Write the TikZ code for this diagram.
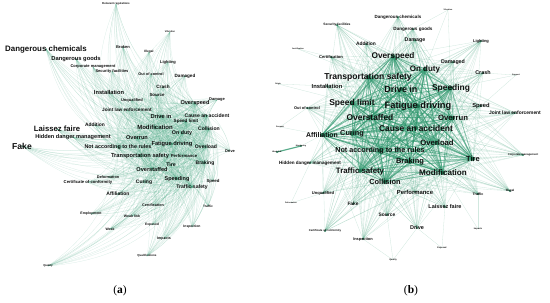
\documentclass[tikz,border=0pt]{standalone}
\usepackage{fontspec}
\setmainfont{Liberation Serif}
\newfontfamily\labfont{Liberation Sans}
\usetikzlibrary{backgrounds}
\definecolor{edgeA}{RGB}{70,165,128}
\definecolor{edgeB}{RGB}{45,150,108}
\definecolor{dotc}{RGB}{25,105,70}
\definecolor{labc}{RGB}{15,15,15}
\tikzset{
  lb/.style={font=\labfont\bfseries\fontsize{#1}{#1}\selectfont, inner sep=0pt, text=labc},
  curveA/.style={draw=edgeA, line width=0.25pt, draw opacity=0.21},
  coreB/.style={draw=edgeB, line width=0.75pt, draw opacity=0.34},
  midB/.style={draw=edgeB, line width=0.35pt, draw opacity=0.2},
  farB/.style={draw=edgeB, line width=0.3pt, draw opacity=0.22},
  capt/.style={font=\fontsize{11.5}{11.5}\selectfont, inner sep=0pt},
}
\begin{document}
\begin{tikzpicture}[x=1pt,y=-1pt]
\useasboundingbox (0,0) rectangle (550,303);
% ---------------- panel (a) ----------------
\node[lb=2.8] (aRR) at (116,4) {Relevant regulations};
\node[lb=2.4] (aVI) at (170,32) {Vibration};
\node[lb=7.9] (aDC) at (46,49) {Dangerous chemicals};
\node[lb=4.0] (aBR) at (123,47) {Broken};
\node[lb=5.8] (aDG) at (76,59) {Dangerous goods};
\node[lb=4.0] (aCM) at (93,67) {Corporate management};
\node[lb=4.0] (aSF) at (112,71) {Security facilities};
\node[lb=3.8] (aOC) at (151,74) {Out of control};
\node[lb=3.2] (aIL) at (149,52) {Illegal};
\node[lb=4.0] (aLI) at (168,62) {Lighting};
\node[lb=4.6] (aDD) at (185,76) {Damaged};
\node[lb=4.7] (aCR) at (163,87) {Crash};
\node[lb=4.4] (aSO) at (157,95) {Source};
\node[lb=5.7] (aIN) at (109,92) {Installation};
\node[lb=4.0] (aUQ) at (132,100) {Unqualified};
\node[lb=4.7] (aJL) at (127,110) {Joint law enforcement};
\node[lb=7.7] (aLF) at (57,129) {Laissez faire};
\node[lb=4.9] (aAD) at (95,125) {Addition};
\node[lb=5.6] (aHD) at (73,137) {Hidden danger management};
\node[lb=8.6] (aFK) at (22,146) {Fake};
\node[lb=5.6] (aOR) at (137,138) {Overrun};
\node[lb=5.4] (aNA) at (118,147) {Not according to the rules};
\node[lb=5.7] (aTS) at (140,156) {Transportation safety};
\node[lb=4.3] (aPF) at (184,156) {Performance};
\node[lb=5.2] (aTI) at (171,165) {Tire};
\node[lb=5.6] (aOS) at (152,169) {Overstaffed};
\node[lb=5.0] (aBK) at (205,163) {Braking};
\node[lb=5.0] (aCU) at (144,182) {Curing};
\node[lb=5.5] (aSP) at (177,179) {Speeding};
\node[lb=5.1] (aTF) at (192,187) {Traffic safety};
\node[lb=4.3] (aSD) at (213,181) {Speed};
\node[lb=3.8] (aDF) at (108,177) {Deformation};
\node[lb=4.2] (aCC) at (88,182) {Certificate of conformity};
\node[lb=5.0] (aAF) at (118,194) {Affiliation};
\node[lb=3.7] (aCT) at (153,205) {Certification};
\node[lb=3.5] (aEM) at (91,214) {Employment};
\node[lb=3.5] (aWL) at (132,216) {Weak link};
\node[lb=3.4] (aWK) at (110,229) {Weak};
\node[lb=3.3] (aEX) at (152,225) {Exposed};
\node[lb=3.4] (aIP) at (192,227) {Inspection};
\node[lb=3.6] (aIM) at (164,239) {Impacts};
\node[lb=2.9] (aQF) at (147,256) {Qualifications};
\node[lb=2.8] (aQU) at (48,266) {Quality};
\node[lb=3.2] (aTR) at (208,206) {Traffic};
\node[lb=3.9] (aDV) at (230,151) {Drive};
\node[lb=5.1] (aOL) at (206,147) {Overload};
\node[lb=5.7] (aFD) at (172,144) {Fatigue driving};
\node[lb=5.3] (aOD) at (182,133) {On duty};
\node[lb=5.1] (aCO) at (209,129) {Collision};
\node[lb=6.0] (aMO) at (155,127) {Modification};
\node[lb=5.7] (aDI) at (161,116) {Drive in};
\node[lb=4.6] (aSL) at (186,121.8) {Speed limit};
\node[lb=5.1] (aCA) at (207,115.5) {Cause an accident};
\node[lb=5.6] (aOV) at (195,103) {Overspeed};
\node[lb=4.0] (aDA) at (217,100) {Damage};
% ---------------- panel (b) ----------------
\node[lb=4.5] (bDC) at (398,17) {Dangerous chemicals};
\node[lb=4.6] (bDG) at (413,29) {Dangerous goods};
\node[lb=3.3] (bSF) at (337,25) {Security facilities};
\node[lb=4.9] (bAD) at (366,44) {Addition};
\node[lb=5.3] (bDA) at (415,40) {Damage};
\node[lb=4.0] (bLI) at (481,41) {Lighting};
\node[lb=2.0] (bVI) at (448,10) {Vibration};
\node[lb=4.1] (bCT) at (331,57) {Certification};
\node[lb=2.0] (bJU) at (298,49) {Justification};
\node[lb=8.3] (bOV) at (393,56) {Overspeed};
\node[lb=8.0] (bOD) at (425,69) {On duty};
\node[lb=5.3] (bDD) at (453,62) {Damaged};
\node[lb=5.4] (bCR) at (483,73) {Crash};
\node[lb=2.0] (bSU) at (516,75) {Support};
\node[lb=8.6] (bTS) at (368,77) {Transportation safety};
\node[lb=9.0] (bDI) at (401,89) {Drive in};
\node[lb=8.4] (bSP) at (451,88) {Speeding};
\node[lb=5.8] (bIN) at (327,86) {Installation};
\node[lb=2.0] (bOG) at (278,84) {Origin};
\node[lb=8.5] (bSL) at (352,103) {Speed limit};
\node[lb=9.3] (bFD) at (418,106) {Fatigue driving};
\node[lb=5.8] (bSD) at (481,106) {Speed};
\node[lb=4.9] (bJL) at (515,113) {Joint law enforcement};
\node[lb=3.9] (bOC) at (307,108) {Out of control};
\node[lb=8.4] (bOS) at (370,117) {Overstaffed};
\node[lb=7.7] (bOR) at (453,118) {Overrun};
\node[lb=8.4] (bCA) at (416,128) {Cause an accident};
\node[lb=2.0] (bSS) at (280,127) {Suspect};
\node[lb=6.9] (bAF) at (322,135) {Affiliation};
\node[lb=7.3] (bCU) at (352,134) {Curing};
\node[lb=7.7] (bOL) at (437,143) {Overload};
\node[lb=7.2] (bNA) at (380,151) {Not according to the rules};
\node[lb=2.0] (bMN) at (301,146) {Monitoring};
\node[lb=2.0] (bWL) at (277,152) {Weak link};
\node[lb=4.6] (bHD) at (310,163) {Hidden danger management};
\node[lb=7.5] (bBK) at (410,162) {Braking};
\node[lb=7.8] (bTF) at (360,171) {Traffic safety};
\node[lb=8.1] (bMO) at (443,173) {Modification};
\node[lb=7.5] (bTI) at (473,159) {Tire};
\node[lb=7.4] (bCO) at (385,182) {Collision};
\node[lb=5.9] (bPF) at (415,192) {Performance};
\node[lb=2.7] (bCM) at (523,155) {Corporate management};
\node[lb=3.6] (bTR) at (478,194) {Traffic};
\node[lb=3.0] (bIL) at (510,191) {Illegal};
\node[lb=5.5] (bLF) at (445,207) {Laissez faire};
\node[lb=4.1] (bUQ) at (323,193) {Unqualified};
\node[lb=2.0] (bDF) at (291,203) {Deformation};
\node[lb=4.8] (bFK) at (353,204) {Fake};
\node[lb=4.9] (bSO) at (387,215) {Source};
\node[lb=5.5] (bDV) at (417,228) {Drive};
\node[lb=2.2] (bIM) at (478,229) {Impacts};
\node[lb=2.8] (bCC) at (325,231) {Certificate of conformity};
\node[lb=3.9] (bIP) at (363,239) {Inspection};
\node[lb=2.2] (bEX) at (442,248) {Exposed};
\node[lb=2.2] (bQU) at (393,260) {Quality};
% captions
\node[capt] (capA) at (120,291) {(\textbf{a})};
\node[capt] (capB) at (411,291) {(\textbf{b})};
% ---------------- edges ----------------
\begin{scope}[on background layer]
% panel (a): curved edges from hubs to all terms
\foreach \h in {aFD,aTS,aOV,aDI,aMO,aCA,aCO,aOD,aSP,aOL,aNA,aOR,aBK,aSL,aTF,aOS}{
  \foreach \p in {aRR,aVI,aDC,aBR,aDG,aCM,aSF,aOC,aIL,aLI,aDD,aCR,aSO,aIN,aUQ,aJL,aLF,aAD,aHD,aFK,aOR,aNA,aTS,aPF,aTI,aOS,aBK,aCU,aSP,aTF,aSD,aDF,aCC,aAF,aCT,aEM,aWL,aWK,aEX,aIP,aIM,aQF,aQU,aTR,aDV,aOL,aFD,aOD,aCO,aMO,aDI,aSL,aCA,aOV,aDA}{
    \ifx\h\p\else\draw[curveA] (\h.center) to[bend left=24] (\p.center);\fi
  }
}
% panel (b): core edges among main terms
\foreach \h in {bFD,bDI,bTS,bOV,bSP,bCA,bSL,bOS,bTI,bMO,bCO,bBK,bTF,bOL,bNA,bOD,bOR,bCU,bAF}{
  \foreach \p in {bFD,bDI,bTS,bOV,bSP,bCA,bSL,bOS,bTI,bMO,bCO,bBK,bTF,bOL,bNA,bOD,bOR,bCU,bAF}{
    \ifx\h\p\else\draw[coreB] (\h.center) -- (\p.center);\fi
  }
  \foreach \p in {bDC,bDG,bSF,bAD,bDA,bLI,bCT,bDD,bCR,bIN,bSD,bJL,bOC,bHD,bPF,bCM,bTR,bIL,bLF,bUQ,bFK,bSO,bDV,bCC,bIP}{
    \draw[midB] (\h.center) -- (\p.center);
  }
}
\foreach \a/\b in {bVI/bOD,bVI/bDG,bVI/bSP,bJU/bCT,bJU/bTS,bSU/bCR,bSU/bSD,bSU/bSP,
  bOG/bIN,bOG/bSL,bSS/bAF,bSS/bOC,bMN/bAF,bDF/bUQ,bDF/bHD,bIM/bTR,bIM/bMO,
  bEX/bDV,bEX/bLF,bQU/bSO,bQU/bIP,bQU/bDV}{
  \draw[farB] (\a.center) -- (\b.center);
}
\draw[draw=edgeB, line width=1.1pt, draw opacity=0.8] (bWL.center) -- (bMN.center);
% dots
\foreach \n in {aDC,aDG,aIN,aLF,aFK,aAD,aHD,aOR,aNA,aTS,aTI,aOS,aBK,aCU,aSP,aTF,aAF,aOL,aFD,aOD,aCO,aMO,aDI,aSL,aCA,aOV,aJL,aDD,aCR,aSO}{
  \fill[dotc, opacity=0.6] (\n.center) circle (0.9);
}
\foreach \n in {bFD,bDI,bTS,bOV,bSP,bCA,bSL,bOS,bTI,bMO,bCO,bBK,bTF,bOL,bNA,bOD,bOR,bCU,bAF}{
  \fill[dotc, opacity=0.85] (\n.center) circle (2);
}
\foreach \n in {bDC,bDG,bSF,bAD,bDA,bLI,bCT,bDD,bCR,bIN,bSD,bJL,bOC,bHD,bPF,bCM,bTR,bIL,bLF,bUQ,bFK,bSO,bDV,bCC,bIP,bWL,bMN}{
  \fill[dotc, opacity=0.8] (\n.center) circle (1.1);
}
\end{scope}
\end{tikzpicture}
\end{document}
